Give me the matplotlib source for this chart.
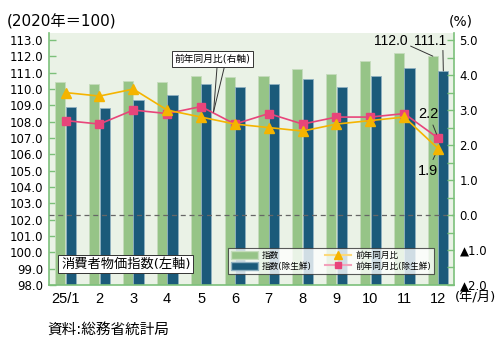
import matplotlib
matplotlib.use("Agg")
import matplotlib.pyplot as plt
from matplotlib.patches import Patch
from matplotlib.lines import Line2D
from matplotlib import font_manager as fm
import numpy as np

plt.rcParams['font.family'] = ['DejaVu Sans', 'Noto Sans CJK JP']
_names = {f.name for f in fm.fontManager.ttflist}
NARROW = 'Liberation Sans Narrow' if 'Liberation Sans Narrow' in _names else 'Liberation Sans'

months = [1, 2, 3, 4, 5, 6, 7, 8, 9, 10, 11, 12]
month_labels = ['25/1', '2', '3', '4', '5', '6', '7', '8', '9', '10', '11', '12']
index_all = [110.4, 110.3, 110.5, 110.4, 110.8, 110.7, 110.8, 111.2, 110.9, 111.7, 112.2, 112.0]
index_core = [108.9, 108.8, 109.3, 109.6, 110.3, 110.1, 110.3, 110.6, 110.1, 110.8, 111.3, 111.1]
yoy_all = [3.5, 3.4, 3.6, 3.0, 2.8, 2.6, 2.5, 2.4, 2.6, 2.7, 2.8, 1.9]
yoy_core = [2.7, 2.6, 3.0, 2.9, 3.1, 2.6, 2.9, 2.6, 2.8, 2.8, 2.9, 2.2]
left_ticks = [98.0, 99.0, 100.0, 101.0, 102.0, 103.0, 104.0, 105.0, 106.0, 107.0,
              108.0, 109.0, 110.0, 111.0, 112.0, 113.0]
right_ticks = [-2.0, -1.0, 0.0, 1.0, 2.0, 3.0, 4.0, 5.0]
right_labels = ['▲2.0', '▲1.0', '0.0', '1.0', '2.0', '3.0', '4.0', '5.0']

c_light = '#96c487'
c_dark = '#1b5a7a'
c_yellow = '#f5b400'
c_pink = '#e8457a'
c_bg = '#eaf2e6'
c_axis = '#7cc07a'

fig = plt.figure(figsize=(5.0, 3.45), dpi=100)
ax = fig.add_axes([0.098, 0.174, 0.81, 0.730])
ax.set_facecolor(c_bg)
x = np.array(months)
w = 0.30
ax.bar(x - 0.155, index_all, width=w, color=c_light, edgecolor='#c5dcbc', linewidth=0.6, zorder=2)
ax.bar(x + 0.155, index_core, width=w, color=c_dark, edgecolor='#8fb0c0', linewidth=0.6, zorder=2)
ax.set_xlim(0.51, 12.47)
ax.set_ylim(98.0, 113.41)
ax.set_yticks(left_ticks)
ax.set_yticklabels([f'{v:.1f}' for v in left_ticks], fontsize=8.5)
ax.set_xticks(x)
ax.set_xticklabels(month_labels, fontsize=10.5, family=NARROW)
ax.tick_params(axis='x', length=0, pad=5)
ax.tick_params(axis='y', direction='in', length=5, color=c_axis, width=1, pad=4)
for s in ['top', 'right']:
    ax.spines[s].set_visible(False)
ax.spines['left'].set_color(c_axis)
ax.spines['left'].set_linewidth(1.2)
ax.spines['bottom'].set_color(c_axis)
ax.spines['bottom'].set_linewidth(1.2)

ax2 = ax.twinx()
ax2.set_ylim(-2.0, 5.2)
ax2.set_xlim(0.51, 12.47)
ax2.axhline(0, color='#666666', linestyle=(0, (4, 3)), linewidth=0.9, zorder=1)
ax2.plot(x, yoy_all, color=c_yellow, linewidth=1.2, marker='^', markersize=6.5, zorder=4)
ax2.plot(x, yoy_core, color=c_pink, linewidth=1.2, marker='s', markersize=5.5, zorder=3)
ax2.set_yticks(right_ticks)
ax2.set_yticklabels(right_labels, fontsize=8.5)
ax2.set_yticks(np.arange(-1.5, 5.0, 1.0), minor=True)
ax2.tick_params(axis='y', which='both', direction='in', length=5, color=c_axis, width=1, pad=4)
for s in ['top', 'left', 'bottom']:
    ax2.spines[s].set_visible(False)
ax2.spines['right'].set_color(c_axis)
ax2.spines['right'].set_linewidth(1.2)

# annotations for last values
ax2.annotate('2.2', xy=(12, yoy_core[-1]), xytext=(11.72, 2.89), fontsize=10.5, family=NARROW,
             ha='center', va='center',
             arrowprops=dict(arrowstyle='-', color='#333333', lw=0.7, shrinkA=1, shrinkB=3))
ax2.annotate('1.9', xy=(12, yoy_all[-1]), xytext=(11.7, 1.27), fontsize=10.5, family=NARROW,
             ha='center', va='center',
             arrowprops=dict(arrowstyle='-', color='#333333', lw=0.7, shrinkA=1, shrinkB=3))
ax.annotate('112.0', xy=(12 - 0.155, index_all[-1]), xytext=(10.61, 112.95), fontsize=10,
            family=NARROW, ha='center', va='center', annotation_clip=False,
            arrowprops=dict(arrowstyle='-', color='#333333', lw=0.7, shrinkA=0, shrinkB=0,
                            relpos=(1.0, 0.2)))
ax.annotate('111.1', xy=(12 + 0.155, index_core[-1]), xytext=(11.76, 112.95), fontsize=10,
            family=NARROW, ha='center', va='center', annotation_clip=False,
            arrowprops=dict(arrowstyle='-', color='#333333', lw=0.7, shrinkA=0, shrinkB=0,
                            relpos=(0.9, 0.0)))

# callout for right axis series
ax2.text(5.34, 4.47, '前年同月比(右軸)', fontsize=7, ha='center', va='center', zorder=6,
         bbox=dict(boxstyle='square,pad=0.3', facecolor='white', edgecolor='#333333', linewidth=0.7))
ax2.plot([5.47, 5.37], [4.2, 2.95], color='#333333', lw=0.7, zorder=5)
ax2.plot([5.68, 5.37], [4.2, 2.95], color='#333333', lw=0.7, zorder=5)

# left axis label box
ax.text(2.78, 99.28, '消費者物価指数(左軸)', fontsize=9.5, ha='center', va='center', zorder=6,
        bbox=dict(boxstyle='square,pad=0.2', facecolor='white', edgecolor='#333333', linewidth=0.7))

handles = [Patch(facecolor=c_light, edgecolor='#c5dcbc'),
           Patch(facecolor=c_dark, edgecolor='#8fb0c0'),
           Line2D([0], [0], color='#fcd97a', lw=1.5, marker='^', markersize=5.5,
                  markerfacecolor=c_yellow, markeredgecolor=c_yellow),
           Line2D([0], [0], color='#f3a0bb', lw=1.5, marker='s', markersize=5,
                  markerfacecolor=c_pink, markeredgecolor=c_pink)]
labels = ['指数', '指数(除生鮮)', '前年同月比', '前年同月比(除生鮮)']
leg = ax2.legend(handles, labels, loc='lower right', bbox_to_anchor=(0.951, 0.044), ncol=2,
                 fontsize=6.2, frameon=True, fancybox=False, edgecolor='#333333',
                 handlelength=3.1, handleheight=1.0, columnspacing=1.5, handletextpad=0.5,
                 borderpad=0.35, labelspacing=0.2, borderaxespad=0.0)
leg.get_frame().set_linewidth(0.8)
leg.set_zorder(7)

fig.text(0.014, 0.937, '(2020年＝100)', fontsize=11, ha='left', va='center')
fig.text(0.922, 0.937, '(%)', fontsize=10, ha='center', va='center')
fig.text(0.951, 0.136, '(年/月)', fontsize=9.5, ha='center', va='center')
fig.text(0.095, 0.045, '資料:総務省統計局', fontsize=10.5, ha='left', va='center')

fig.savefig('out.png', dpi=100)
